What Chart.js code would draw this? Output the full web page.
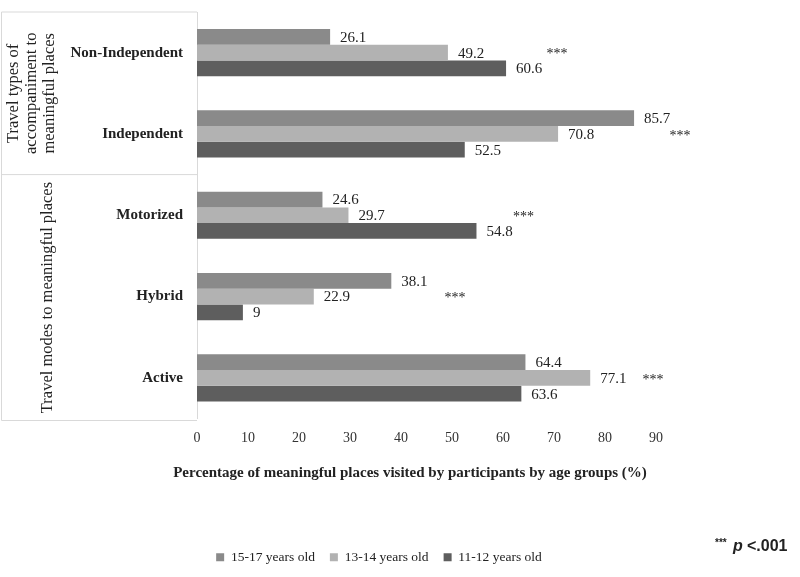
<!DOCTYPE html>
<html>
<head>
<meta charset="utf-8">
<script src="https://cdn.jsdelivr.net/npm/chart.js@4"></script>
<style>
  body { margin: 0; background: #fff; }
  #wrap { width: 800px; height: 577px; }
</style>
</head>
<body>
<div id="wrap"><canvas id="bars"></canvas></div>
<script>
// Data
const categories = ['Non-Independent', 'Independent', 'Motorized', 'Hybrid', 'Active'];
const older = [26.1, 85.7, 24.6, 38.1, 64.4];     // 15-17
const middle = [49.2, 70.8, 29.7, 22.9, 77.1];    // 13-14
const younger = [60.6, 52.5, 54.8, 9, 63.6];      // 11-12
const starAt = [70.6, 94.7, 64, 50.6, 89.4];      // where the *** sits, in x units
const tickValues = [0, 10, 20, 30, 40, 50, 60, 70, 80, 90];
const groupTitles = [
  ['Travel types of', 'accompaniment to', 'meaningful places'],
  ['Travel modes to meaningful places']
];

const serif = '"Liberation Serif", "Times New Roman", serif';

// value labels + stars + left box + axis title
const extras = {
  id: 'extras',
  afterDatasetsDraw(chart) {
    const ctx = chart.ctx;
    const x = chart.scales.x, y = chart.scales.y;
    ctx.save();
    ctx.font = '15px ' + serif;
    ctx.fillStyle = '#222';
    ctx.textBaseline = 'middle';
    ctx.textAlign = 'left';
    chart.data.datasets.forEach((ds, i) => {
      chart.getDatasetMeta(i).data.forEach((bar, j) => {
        ctx.fillText(String(ds.data[j]), bar.x + 10, bar.y + 1);
      });
    });
    // significance stars
    ctx.font = '14px ' + serif;
    ctx.textAlign = 'center';
    starAt.forEach((v, j) => {
      ctx.fillText('***', x.getPixelForValue(v), y.getPixelForValue(j) + 2);
    });

    // left label box
    const top = chart.chartArea.top, bottom = chart.chartArea.bottom + 2;
    const left = chart.chartArea.left;
    const split = (y.getPixelForValue(1) + y.getPixelForValue(2)) / 2;
    ctx.strokeStyle = '#d9d9d9';
    ctx.lineWidth = 1;
    ctx.beginPath();
    ctx.moveTo(1.5, top); ctx.lineTo(left, top);
    ctx.moveTo(1.5, top); ctx.lineTo(1.5, bottom);
    ctx.moveTo(1.5, bottom); ctx.lineTo(left, bottom);
    ctx.moveTo(1.5, split); ctx.lineTo(left, split);
    ctx.stroke();

    ctx.font = '16.5px ' + serif;
    ctx.fillStyle = '#222';
    const boxes = [[top, split, 32], [split, bottom, 48]];
    groupTitles.forEach((lines, g) => {
      const [t, b, cx] = boxes[g];
      ctx.save();
      ctx.translate(cx, (t + b) / 2);
      ctx.rotate(-Math.PI / 2);
      ctx.textAlign = 'center';
      lines.forEach((ln, k) => {
        ctx.fillText(ln, 0, (k - (lines.length - 1) / 2) * 18);
      });
      ctx.restore();
    });

    // x axis title
    ctx.font = 'bold 15px ' + serif;
    ctx.textAlign = 'center';
    ctx.fillText('Percentage of meaningful places visited by participants by age groups (%)', 410, 473);

    // p-value note
    ctx.textAlign = 'left';
    ctx.font = 'bold 10px "Liberation Sans", Arial, sans-serif';
    ctx.fillText('***', 715, 543);
    ctx.font = 'bold italic 16px "Liberation Sans", Arial, sans-serif';
    ctx.fillText('p', 733, 547);
    ctx.font = 'bold 16px "Liberation Sans", Arial, sans-serif';
    ctx.fillText('<.001', 747, 547);
    ctx.restore();
  }
};

const chart_data = {
  labels: categories,
  datasets: [
    { label: '15-17 years old', data: older, backgroundColor: '#8a8a8a' },
    { label: '13-14 years old', data: middle, backgroundColor: '#b2b2b2' },
    { label: '11-12 years old', data: younger, backgroundColor: '#5e5e5e' }
  ]
};

const chart_config = {
  type: 'bar',
  data: chart_data,
  options: {
    indexAxis: 'y',
    responsive: true,
    maintainAspectRatio: false,
    animation: false,
    categoryPercentage: 0.58,
    barPercentage: 1,
    layout: { padding: { top: 12, right: 42, left: 0, bottom: 3 } },
    plugins: {
      tooltip: { enabled: false },
      legend: {
        position: 'bottom',
        labels: {
          boxWidth: 8,
          boxHeight: 8,
          padding: 15,
          color: '#222',
          font: { family: serif, size: 13.5 }
        }
      }
    },
    scales: {
      x: {
        min: 0,
        max: 110,
        afterBuildTicks: (s) => { s.ticks = tickValues.map(v => ({ value: v })); },
        afterFit: (s) => { s.height = 117; },
        grid: { display: false, drawTicks: false },
        border: { display: false },
        ticks: {
          padding: 11,
          color: '#333',
          font: { family: serif, size: 14 }
        }
      },
      y: {
        afterFit: (s) => { s.width = 197; s.paddingTop = 0; s.paddingBottom = 0; },
        grid: { display: false, drawTicks: false },
        border: { display: true, color: '#d9d9d9' },
        ticks: {
          padding: 14,
          color: '#222',
          font: { family: serif, size: 15, weight: 'bold' }
        }
      }
    }
  },
  plugins: [extras]
};

var barChart = new Chart(
  document.getElementById('bars'),
  chart_config
);
</script>
</body>
</html>
